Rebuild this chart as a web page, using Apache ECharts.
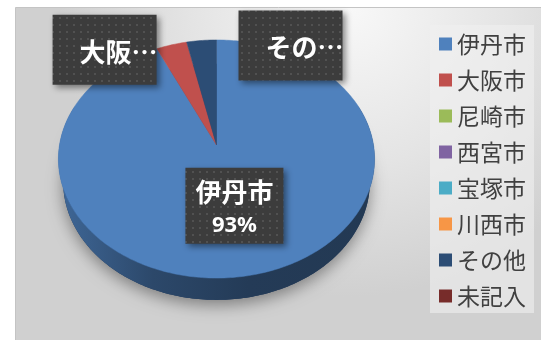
<!DOCTYPE html>
<html>
<head>
<meta charset="utf-8">
<script src="https://cdn.jsdelivr.net/npm/echarts@6/dist/echarts.min.js"></script>
<style>
  html, body { margin: 0; padding: 0; background: #ffffff; }
  #chart { width: 541px; height: 340px; }
</style>
</head>
<body>
<div id="chart"></div>
<script>
// Respondents by place of residence
const categories = ['伊丹市', '大阪市', '尼崎市', '西宮市', '宝塚市', '川西市', 'その他', '未記入'];
const values = [93.1, 3.5, 0, 0, 0, 0, 3.4, 0];
const palette = ['#4f81bd', '#c0504d', '#9bbb59', '#8064a2', '#4bacc6', '#f79646', '#2c4d75', '#772c2a'];

// ---- view / styling constants ----
const VIEW = { cx: 216.5, cy: 145, k: 157, tilt: 48.4 * Math.PI / 180, dist: 5.64, depth: 0.23 };
const SIN = Math.sin(VIEW.tilt), COS = Math.cos(VIEW.tilt);
const FRONT0 = 70 * Math.PI / 180, FRONT1 = 290 * Math.PI / 180;
// label box sizes and nudges (pixels) for the callouts outside the pie
const labelBox = {
  inside: { w: 98, h: 76 },
  outside: { w: 104, h: 70, padLeft: 27 }
};
const labelNudge = { '大阪市': [-67, 5], 'その他': [89, 5] };

const total = values.reduce((a, b) => a + b, 0);
const startShare = [];
(function () { let acc = 0; values.forEach(v => { startShare.push(acc / total); acc += v; }); })();

// perspective projection of a point on the pie disc
// theta: clockwise from 12 o'clock, r: 0..1 radius, h: height (0 = top face)
function project(theta, r, h) {
  const x = r * Math.sin(theta), z = -r * Math.cos(theta);
  const up = h * COS - z * SIN;
  const dd = h * SIN + z * COS;
  const s = VIEW.dist / (VIEW.dist - dd);
  return [VIEW.cx + VIEW.k * x * s, VIEW.cy - VIEW.k * up * s];
}
function arc(a0, a1, r, h) {
  const n = Math.max(2, Math.ceil(Math.abs(a1 - a0) / (Math.PI / 180)));
  const pts = [];
  for (let j = 0; j <= n; j++) pts.push(project(a0 + (a1 - a0) * j / n, r, h));
  return pts;
}
function shade(hex, f) {
  const n = parseInt(hex.slice(1), 16);
  const c = [(n >> 16) & 255, (n >> 8) & 255, n & 255].map(v => Math.round(v * f));
  return 'rgb(' + c.join(',') + ')';
}

// dotted fill for the callout boxes
const dotCanvas = document.createElement('canvas');
dotCanvas.width = 7; dotCanvas.height = 7;
(function () {
  const g = dotCanvas.getContext('2d');
  g.fillStyle = '#3c3c3c'; g.fillRect(0, 0, 7, 7);
  g.fillStyle = '#515151'; g.fillRect(3, 3, 2, 2);
})();
const dotFill = { image: dotCanvas, repeat: 'repeat' };

function renderSlice(params, api) {
  const i = params.seriesIndex;
  const v = api.value(0);
  if (!(v > 0)) return null;
  const color = palette[i];
  const start = startShare[i] * Math.PI * 2;
  const end = start + v / total * Math.PI * 2;
  const children = [];

  // soft shadow under the whole disc
  if (i === 0) {
    children.push({
      type: 'polygon', z2: 0,
      shape: { points: arc(0, Math.PI * 2, 1, -VIEW.depth) },
      style: { fill: '#1d375b', shadowBlur: 16, shadowOffsetY: 5, shadowColor: 'rgba(0,0,0,0.4)' }
    });
  }

  // visible side wall
  const a0 = Math.max(start, FRONT0), a1 = Math.min(end, FRONT1);
  if (a1 > a0) {
    const pts = arc(a0, a1, 1, 0).concat(arc(a1, a0, 1, -VIEW.depth));
    children.push({
      type: 'polygon', z2: 1,
      shape: { points: pts },
      style: {
        fill: {
          type: 'linear', x: 0, y: 0, x2: 1, y2: 0,
          colorStops: [
            { offset: 0, color: shade(color, 0.8) },
            { offset: 0.3, color: shade(color, 0.56) },
            { offset: 0.6, color: shade(color, 0.46) },
            { offset: 1, color: shade(color, 0.44) }
          ]
        }
      }
    });
  }

  // top face
  const top = [project(0, 0, 0)].concat(arc(start, end, 1, 0));
  children.push({
    type: 'polygon', z2: 2,
    shape: { points: top },
    style: { fill: color, stroke: color, lineWidth: 0.5 }
  });

  // data label
  const share = v / total;
  const mid = (start + end) / 2;
  const pct = Math.round(share * 100) + '%';
  const name = categories[i];
  if (share >= 0.1) {
    const p = project(mid, 0.5, 0);
    const b = labelBox.inside;
    children.push({
      type: 'rect', z2: 5,
      shape: { x: p[0] - b.w / 2, y: p[1] - b.h / 2, width: b.w, height: b.h },
      style: { fill: dotFill, shadowBlur: 6, shadowOffsetX: 3, shadowOffsetY: 3, shadowColor: 'rgba(0,0,0,0.45)' }
    });
    children.push({
      type: 'text', z2: 6, x: p[0], y: p[1] + 3,
      style: {
        text: '{n|' + name + '}\n{p|' + pct + '}',
        align: 'center', verticalAlign: 'middle',
        rich: {
          n: { fill: '#ffffff', fontSize: 26, fontWeight: 'bold', fontFamily: '"Noto Sans CJK JP"', lineHeight: 34, align: 'center' },
          p: { fill: '#ffffff', fontSize: 22, fontWeight: 'bold', fontFamily: '"Noto Sans"', lineHeight: 34, align: 'center' }
        }
      }
    });
  } else {
    const e = project(mid, 1, 0);
    const nudge = labelNudge[name] || [0, -30];
    const cx = e[0] + nudge[0], cy = e[1] + nudge[1];
    const b = labelBox.outside;
    children.push({
      type: 'rect', z2: 5,
      shape: { x: cx - b.w / 2, y: cy - b.h / 2, width: b.w, height: b.h },
      style: { fill: dotFill, shadowBlur: 6, shadowOffsetX: 3, shadowOffsetY: 3, shadowColor: 'rgba(0,0,0,0.45)' }
    });
    children.push({
      type: 'text', z2: 6, x: cx - b.w / 2 + b.padLeft, y: cy + 2,
      style: {
        text: name.slice(0, 2) + '…',
        fill: '#ffffff', fontSize: 26, fontWeight: 'bold', fontFamily: '"Noto Sans CJK JP"',
        align: 'left', verticalAlign: 'middle'
      }
    });
  }
  return { type: 'group', children: children };
}

const chart = echarts.init(document.getElementById('chart'), null, { renderer: 'canvas' });
chart.setOption({
  animation: false,
  backgroundColor: '#ffffff',
  color: palette,
  graphic: {
    elements: [{
      type: 'rect', z: -10, silent: true,
      shape: { x: 15.5, y: 7.5, width: 540, height: 340 },
      style: {
        fill: {
          type: 'radial', x: 0.62, y: 0.0, r: 0.85,
          colorStops: [
            { offset: 0, color: '#f8f8f8' },
            { offset: 0.55, color: '#e4e4e4' },
            { offset: 1, color: '#d0d0d0' }
          ]
        },
        stroke: '#c4c4c4', lineWidth: 1
      }
    }]
  },
  legend: {
    data: categories,
    orient: 'vertical',
    left: 430, top: 25,
    padding: [6, 8, 4, 9],
    itemWidth: 13, itemHeight: 13, itemGap: 10,
    icon: 'rect',
    backgroundColor: 'rgba(240,240,240,0.6)',
    textStyle: { fontSize: 23, color: '#404040', fontFamily: '"Noto Sans CJK JP"', lineHeight: 26 }
  },
  series: categories.map((name, i) => ({
    type: 'custom',
    name: name,
    coordinateSystem: 'none',
    silent: true,
    itemStyle: { color: palette[i] },
    data: [values[i]],
    renderItem: renderSlice
  }))
});
</script>
</body>
</html>
